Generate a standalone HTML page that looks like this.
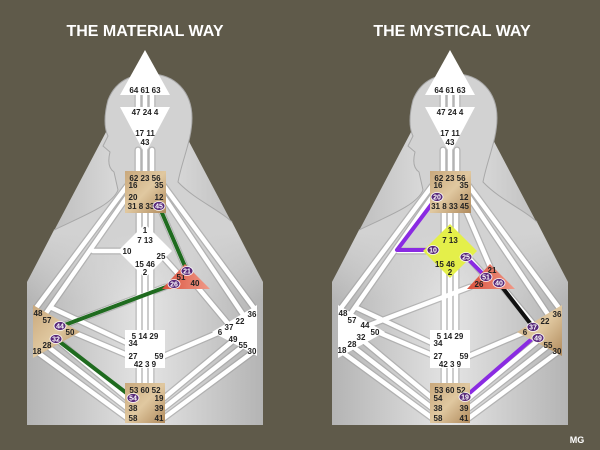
<!DOCTYPE html>
<html><head><meta charset="utf-8"><style>
html,body{margin:0;padding:0;background:#5f5a4a;}
svg{display:block}
text{font-family:"Liberation Sans",sans-serif;font-weight:bold;}
.g{font-size:8px;fill:#222;}
.c{font-size:7px;fill:#fff;}
</style></head><body>
<svg width="600" height="450" viewBox="0 0 600 450" xmlns="http://www.w3.org/2000/svg">
<defs>
<linearGradient id="pan" x1="0" y1="0" x2="1" y2="0">
<stop offset="0" stop-color="#b4b4b4"/><stop offset="0.5" stop-color="#e4e4e4"/><stop offset="1" stop-color="#b4b4b4"/></linearGradient>
<linearGradient id="bod" x1="0" y1="0" x2="0" y2="1">
<stop offset="0" stop-color="#d2d2d2"/><stop offset="0.7" stop-color="#d2d2d2"/><stop offset="1" stop-color="#d2d2d2" stop-opacity="0"/></linearGradient>
<linearGradient id="tan" x1="0" y1="0" x2="1" y2="1">
<stop offset="0" stop-color="#c9a87c"/><stop offset="0.5" stop-color="#e0c8a0"/><stop offset="1" stop-color="#b08a5c"/></linearGradient>
<linearGradient id="red" x1="0" y1="0" x2="1" y2="0">
<stop offset="0" stop-color="#d9503c"/><stop offset="1" stop-color="#f09a88"/></linearGradient>
<g id="base">
<polygon points="145,58 27,282 27,425 263,425 263,282" fill="url(#pan)"/>
<path d="M54,230 C85,215 112,205 118,190 L114,172 C108,168 108,160 110,152 L103,146 L108,136 C104,128 104,115 108,100 C115,82 130,74 150,74 C175,74 192,92 192,118 C192,140 182,160 178,182 C195,200 220,210 232,222 L263,282 L263,300 L27,300 L27,282 Z" fill="url(#bod)"/>
<path d="M54,230 C85,215 112,205 118,190 L114,172 C108,168 108,160 110,152 L103,146 L108,136 C104,128 104,115 108,100 C115,82 130,74 150,74 C175,74 192,92 192,118 C192,140 182,160 178,182 C195,200 220,210 232,222" fill="none" stroke="#a8a8a8" stroke-width="1"/>
<g stroke="#9a9a9a" stroke-width="7" fill="none" stroke-linecap="round" opacity="0.55">
<path d="M138,92V108M145,92V108M152,92V108M138,150V172M145,150V172M152,150V172M139,213V332M145,213V332M151,213V332M139,368V384M145,368V384M151,368V384"/>
<path d="M127,186L36,308M127,197L44,316M164,186L254,308M164,197L244,316M159,206L187,271M93,251H125M52,308L127,343M165,287L62,326M75,333L127,355M37,352L127,418M47,346L127,408M56,339L127,398M253,352L164,418M243,346L164,408M235,339L164,398M164,356L220,332M195,284L230,326M163,257L181,277"/>
</g>
<g stroke="#fff" stroke-width="4.5" fill="none" stroke-linecap="round">
<path d="M138,92V108M145,92V108M152,92V108M138,150V172M145,150V172M152,150V172M139,213V332M145,213V332M151,213V332M139,368V384M145,368V384M151,368V384"/>
<path d="M127,186L36,308M127,197L44,316M164,186L254,308M164,197L244,316M159,206L187,271M93,251H125M52,308L127,343M165,287L62,326M75,333L127,355M37,352L127,418M47,346L127,408M56,339L127,398M253,352L164,418M243,346L164,408M235,339L164,398M164,356L220,332M195,284L230,326M163,257L181,277"/>
</g>
<polygon points="145,50 120,95 170,95" fill="#fff"/>
<polygon points="120,107 170,107 145,154" fill="#fff"/>
<rect x="125" y="330" width="40" height="38" fill="#fff"/>
</g>
</defs>

<text x="145" y="36" font-size="16" fill="#fff" text-anchor="middle" style="font-weight:bold">THE MATERIAL WAY</text>
<text x="452" y="36" font-size="16" fill="#fff" text-anchor="middle" style="font-weight:bold">THE MYSTICAL WAY</text>
<text x="577" y="443" font-size="9" fill="#fff" text-anchor="middle" style="font-weight:bold">MG</text>

<!-- LEFT -->
<use href="#base"/>
<g stroke="#1f6b1f" stroke-width="4" stroke-linecap="round" fill="none">
<path d="M159,206L187,271M174,284L62,326M56,339L133,398"/>
</g>
<rect x="125" y="171" width="41" height="42" fill="url(#tan)"/>
<polygon points="145,224 172,251 145,278 118,251" fill="#fff"/>
<polygon points="185,264 162,289 210,289" fill="url(#red)"/>
<polygon points="33,305 33,358 80,332" fill="url(#tan)"/>
<polygon points="257,305 257,356 212,332" fill="#fff"/>
<rect x="125" y="383" width="40" height="40" fill="url(#tan)"/>
<g class="g" text-anchor="middle">
<text x="145" y="93">64 61 63</text><text x="145" y="115">47 24 4</text><text x="145" y="136">17 11</text><text x="145" y="145">43</text>
<text x="145" y="181">62 23 56</text><text x="133" y="188">16</text><text x="159" y="188">35</text><text x="133" y="200">20</text><text x="159" y="200">12</text><text x="141" y="209">31 8 33</text>
<text x="145" y="233">1</text><text x="145" y="243">7 13</text><text x="127" y="254">10</text><text x="161" y="259">25</text><text x="145" y="267">15 46</text><text x="145" y="275">2</text>
<text x="181" y="280">51</text><text x="195" y="286">40</text>
<text x="38" y="316">48</text><text x="47" y="323">57</text><text x="70" y="335">50</text><text x="47" y="348">28</text><text x="37" y="354">18</text>
<text x="145" y="339">5 14 29</text><text x="133" y="346">34</text><text x="133" y="359">27</text><text x="159" y="359">59</text><text x="145" y="367">42 3 9</text>
<text x="252" y="317">36</text><text x="240" y="324">22</text><text x="229" y="330">37</text><text x="220" y="335">6</text><text x="233" y="342">49</text><text x="243" y="348">55</text><text x="252" y="354">30</text>
<text x="145" y="393">53 60 52</text><text x="159" y="401">19</text><text x="133" y="411">38</text><text x="159" y="411">39</text><text x="133" y="421">58</text><text x="159" y="421">41</text>
</g>
<g fill="#5a2a7a" stroke="#fff" stroke-width="0.8">
<ellipse cx="159" cy="206" rx="6" ry="4.5"/><ellipse cx="187" cy="271" rx="6" ry="4.5"/><ellipse cx="174" cy="284" rx="6" ry="4.5"/><ellipse cx="60" cy="326" rx="6" ry="4.5"/><ellipse cx="56" cy="339" rx="6" ry="4.5"/><ellipse cx="133" cy="398" rx="6" ry="4.5"/>
</g>
<g class="c" text-anchor="middle">
<text x="159" y="208.5">45</text><text x="187" y="273.5">21</text><text x="174" y="286.5">26</text><text x="60" y="328.5">44</text><text x="56" y="341.5">32</text><text x="133" y="400.5">54</text>
</g>

<!-- RIGHT -->
<g transform="translate(305,0)">
<use href="#base"/>
<g stroke-width="4" stroke-linecap="round" fill="none" stroke-linejoin="round">
<path d="M132,197L92,250H128M161,257L181,277M228,338L160,397" stroke="#8a2be2"/>
<path d="M194,283L228,327" stroke="#111"/>
</g>
<rect x="125" y="171" width="41" height="42" fill="url(#tan)"/>
<polygon points="145,224 172,251 145,278 118,251" fill="#e4ef4a"/>
<polygon points="185,264 162,289 210,289" fill="url(#red)"/>
<polygon points="33,305 33,358 80,332" fill="#fff"/>
<polygon points="257,305 257,356 212,332" fill="url(#tan)"/>
<rect x="125" y="383" width="40" height="40" fill="url(#tan)"/>
<g class="g" text-anchor="middle">
<text x="145" y="93">64 61 63</text><text x="145" y="115">47 24 4</text><text x="145" y="136">17 11</text><text x="145" y="145">43</text>
<text x="145" y="181">62 23 56</text><text x="133" y="188">16</text><text x="159" y="188">35</text><text x="159" y="200">12</text><text x="145" y="209">31 8 33 45</text>
<text x="145" y="233">1</text><text x="145" y="243">7 13</text><text x="140" y="267">15 46</text><text x="145" y="275">2</text>
<text x="187" y="273">21</text><text x="174" y="287">26</text>
<text x="38" y="316">48</text><text x="47" y="323">57</text><text x="60" y="328">44</text><text x="70" y="335">50</text><text x="56" y="340">32</text><text x="47" y="347">28</text><text x="37" y="353">18</text>
<text x="145" y="339">5 14 29</text><text x="133" y="346">34</text><text x="133" y="359">27</text><text x="159" y="359">59</text><text x="145" y="367">42 3 9</text>
<text x="252" y="317">36</text><text x="240" y="324">22</text><text x="220" y="335">6</text><text x="243" y="348">55</text><text x="252" y="354">30</text>
<text x="145" y="393">53 60 52</text><text x="133" y="401">54</text><text x="133" y="411">38</text><text x="159" y="411">39</text><text x="133" y="421">58</text><text x="159" y="421">41</text>
</g>
<g fill="#5a2a7a" stroke="#fff" stroke-width="0.8">
<ellipse cx="132" cy="197" rx="6" ry="4.5"/><ellipse cx="128" cy="250" rx="6" ry="4.5"/><ellipse cx="161" cy="257" rx="6" ry="4.5"/><ellipse cx="181" cy="277" rx="6" ry="4.5"/><ellipse cx="194" cy="283" rx="6" ry="4.5"/><ellipse cx="228" cy="327" rx="6" ry="4.5"/><ellipse cx="233" cy="338" rx="6" ry="4.5"/><ellipse cx="160" cy="397" rx="6" ry="4.5"/>
</g>
<g class="c" text-anchor="middle">
<text x="132" y="199.5">20</text><text x="128" y="252.5">10</text><text x="161" y="259.5">25</text><text x="181" y="279.5">51</text><text x="194" y="285.5">40</text><text x="228" y="329.5">37</text><text x="233" y="340.5">49</text><text x="160" y="399.5">19</text>
</g>
</g>
</svg>
</body></html>
